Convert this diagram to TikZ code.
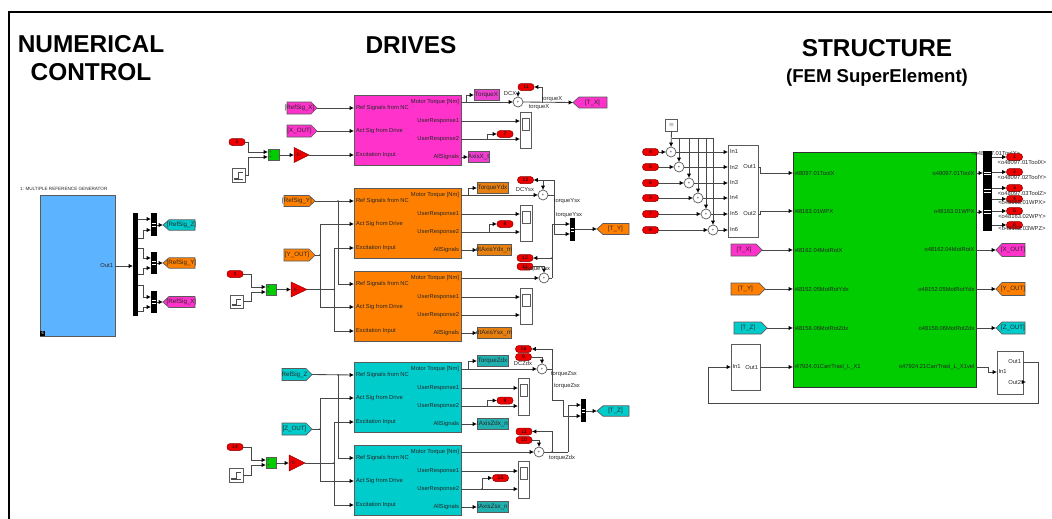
\documentclass[tikz,border=0pt]{standalone}
\usepackage{fontspec}
\setmainfont{Liberation Sans}
\usetikzlibrary{arrows.meta}
\definecolor{cblue}{HTML}{5CB3FF}
\definecolor{cmag}{HTML}{FF33CC}
\definecolor{cora}{HTML}{FF8000}
\definecolor{ccya}{HTML}{00CCCC}
\definecolor{cgre}{HTML}{00CC00}
\definecolor{cred}{HTML}{EE0000}
\definecolor{wirec}{HTML}{484848}
\definecolor{edgec}{HTML}{5A5A5A}
\definecolor{dmag}{HTML}{EE40D0}
\definecolor{dora}{HTML}{E88010}
\definecolor{dcya}{HTML}{20B0B0}
\tikzset{
  wire/.style={draw=wirec,line width=.85pt},
  arw/.style={wire,-{Latex[black,length=4.4pt,width=4.4pt]}},
  blockb/.style={draw=edgec,line width=.9pt,inner sep=0,outer sep=0},
  lbl/.style={font=\fontsize{5.8}{6}\selectfont,text=black!85,inner sep=0,outer sep=0},
  tagt/.style={font=\fontsize{6.2}{7}\selectfont,text=black!85,inner sep=0,outer sep=0},
  pillb/.style={draw=red!55!black,line width=.5pt,fill=cred,rounded corners=3.2pt,minimum width=16pt,minimum height=7pt,inner sep=0,outer sep=0,font=\fontsize{5}{5}\selectfont,text=black},
  summ/.style={circle,draw=edgec,line width=.7pt,fill=white,minimum size=10pt,inner sep=0,outer sep=0,font=\fontsize{4}{4}\selectfont},
  barb/.style={fill=black,draw=none,inner sep=0,outer sep=0},
  title/.style={font=\fontsize{24.4}{24}\selectfont\bfseries,text=black,inner sep=0,align=center},
  titlesm/.style={title,font=\fontsize{18.6}{20}\selectfont\bfseries},
  rtagb/.style={draw=edgec,line width=.7pt,inner sep=0,outer sep=0,tagt,minimum height=11pt},
}
\newcommand{\bx}[6]{\node[blockb,#6,minimum width={(#4)-(#2)},minimum height={(#5)-(#3)}] (#1) at ({(#2+#4)/2},{(#3+#5)/2}) {};}
\newcommand{\pill}[4]{\node[pillb] (#1) at (#2,#3) {#4};}
\newcommand{\gtL}[7]{\draw[draw=edgec,line width=.7pt,fill=#6] (#2,#4) -- ({#2+6},{#4-#5}) -- (#3,{#4-#5}) -- (#3,{#4+#5}) -- ({#2+6},{#4+#5}) -- cycle;
  \coordinate (#1-p) at (#2,#4);
  \node[tagt] (#1) at ({(#2+5+#3)/2},#4) {#7};}
\newcommand{\gtR}[7]{\draw[draw=edgec,line width=.7pt,fill=#6] (#3,#4) -- ({#3-6},{#4-#5}) -- (#2,{#4-#5}) -- (#2,{#4+#5}) -- ({#3-6},{#4+#5}) -- cycle;
  \coordinate (#1-p) at (#3,#4);
  \node[tagt] (#1) at ({(#2+#3-5)/2},#4) {#7};}
\newcommand{\rtg}[6]{\node[rtagb,fill=#5,minimum width={(#3)-(#2)}] (#1) at ({(#2+#3)/2},#4) {\makebox[0pt]{#6}};}
\newcommand{\sumn}[3]{\node[summ] (#1) at (#2,#3) {+};}
\newcommand{\scopeb}[5]{\bx{#1}{#2}{#3}{#4}{#5}{fill=white}
  \bx{#1-s}{#2+2}{#3+6}{#4-2}{#3+18}{fill=white,line width=.7pt}}
\newcommand{\stepb}[5]{\bx{#1}{#2}{#3}{#4}{#5}{fill=white,line width=.7pt}
  \draw[line width=.5pt,black!70] ({#2+2},{#5-4}) -- ({(#2+#4)/2},{#5-4}) -- ({(#2+#4)/2},{#3+4}) -- ({#4-2},{#3+4});
  \draw[line width=.4pt,black!70] ({#2+2},{#5-2.5}) -- ({#4-2},{#5-2.5});}
\newcommand{\gain}[5]{\draw[draw=red!60!black,line width=.5pt,fill=cred] (#2,{#4-#5}) -- (#3,#4) -- (#2,{#4+#5}) -- cycle;
  \coordinate (#1-i) at (#2,#4); \coordinate (#1-o) at (#3,#4);
  \node[lbl,font=\fontsize{5}{5}\selectfont] (#1) at ({#2+5},#4) {K-};}
\newcommand{\muxb}[5]{\bx{#1}{#2}{#3}{#4}{#5}{barb}
  \draw[white,line width=.5pt] ({#2+.7},{(#3+#5)/2-1.5}) -- ({#4-.7},{(#3+#5)/2-1.5}) ({#2+.7},{(#3+#5)/2+1.5}) -- ({#4-.7},{(#3+#5)/2+1.5});}
\newcommand{\gbox}[5]{\bx{#1}{#2}{#3}{#4}{#5}{fill=cgre,line width=.6pt}
  \node[lbl,font=\fontsize{4}{4}\selectfont,anchor=west] (#1-a) at ({#2+1},{#3+3}) {+};
  \node[lbl,font=\fontsize{4}{4}\selectfont,anchor=west] (#1-b) at ({#2+1},{#5-3}) {+};}
\newcommand{\drive}[3]{%
  \bx{#1}{354}{#2}{461}{#2+70}{fill=#3}
  \coordinate (#1-r) at (354,#2+13); \coordinate (#1-a) at (354,#2+36); \coordinate (#1-e) at (354,#2+60);
  \coordinate (#1-m) at (461,#2+7); \coordinate (#1-u) at (461,#2+26); \coordinate (#1-v) at (461,#2+44); \coordinate (#1-s) at (461,#2+62);
  \node[lbl,anchor=west] (#1-l1) at ([xshift=2pt]#1-r) {Ref Signals from NC};
  \node[lbl,anchor=west] (#1-l2) at ([xshift=2pt]#1-a) {Act Sig from Drive};
  \node[lbl,anchor=west] (#1-l3) at ([xshift=2pt]#1-e) {Excitation Input};
  \node[lbl,anchor=east] (#1-l4) at ([xshift=-2pt]#1-m) {Motor Torque [Nm]};
  \node[lbl,anchor=east] (#1-l5) at ([xshift=-2pt]#1-u) {UserResponse1};
  \node[lbl,anchor=east] (#1-l6) at ([xshift=-2pt]#1-v) {UserResponse2};
  \node[lbl,anchor=east] (#1-l7) at ([xshift=-2pt]#1-s) {AllSignals};}
\newcommand{\jdot}[1]{\fill[wirec] (#1) circle (.9pt);}
\begin{document}
\begin{tikzpicture}[x=1pt,y=-1pt]
\useasboundingbox (0,0) rectangle (1052,519);
\fill[white] (0,0) rectangle (1052,519);
% frame
\coordinate (fa) at (9,519); \coordinate (fb) at (9,12); \coordinate (fc) at (1052,12);
\draw[black,line width=2pt] (fa) -- (fb) -- (fc);
% titles
\node[title] (t1) at (91,44) {NUMERICAL};
\node[title] (t2) at (91,72) {CONTROL};
\node[title] (t3) at (411,45) {DRIVES};
\node[title] (t4) at (877,48) {STRUCTURE};
\node[titlesm] (t5) at (877,78) {(FEM SuperElement)};

% ---------- numerical control
\node[lbl,font=\fontsize{4.6}{5}\selectfont,anchor=west] (gt) at (20,188.5) {1: MULTIPLE REFERENCE GENERATOR};
\bx{gen}{40}{195}{115}{336}{fill=cblue}
\node[lbl,anchor=east] (genout) at (113,266) {Out1};
\node[fill=black,text=white,inner sep=0,outer sep=0,minimum size=5pt,font=\fontsize{4}{4}\selectfont] (genic) at (42.7,333) {6};
\bx{dmx}{133}{213}{138}{316}{barb}
\muxb{mz}{151}{213}{157}{236}
\muxb{my}{151}{252}{157}{274}
\muxb{mx}{151}{291}{157}{313}
\draw[arw] (gen.east |- genout) -- (dmx.west |- genout);
\draw[arw] (dmx.east |- 0,219) -- (mz.west |- 0,219);
\draw[arw] (dmx.east |- 0,238) -- ++(5,0) |- (mz.west |- 0,230);
\draw[arw] (dmx.east |- 0,248) -- ++(5,0) |- (my.west |- 0,258);
\draw[arw] (dmx.east |- 0,274) -- ++(5,0) |- (my.west |- 0,268);
\draw[arw] (dmx.east |- 0,285) -- ++(5,0) |- (mx.west |- 0,297);
\draw[arw] (dmx.east |- 0,311) -- ++(5,0) |- (mx.west |- 0,307);
\gtL{grz}{163}{195}{225}{5.2}{ccya}{[RefSig\_Z]}
\gtL{gry}{163}{195}{263}{5.2}{cora}{[RefSig\_Y]}
\gtL{grx}{163}{195}{302}{5.5}{cmag}{[RefSig\_X]}
\draw[arw] (mz.east |- grz-p) -- (grz-p);
\draw[arw] (my.east |- gry-p) -- (gry-p);
\draw[arw] (mx.east |- grx-p) -- (grx-p);

% ---------- X drive
\drive{dx}{95}{cmag}
\gtR{frx}{287}{317}{108}{6}{cmag}{[RefSig\_X]}
\gtR{fox}{287}{317}{131}{6}{cmag}{[X\_OUT]}
\draw[arw] (frx-p) -- (dx-r);
\draw[arw] (fox-p) -- (dx-a);
\pill{p2}{237}{142}{2}
\stepb{stx}{232}{168}{245}{182}
\gbox{mgx}{268}{149}{279}{160}
\gain{kx}{294}{309}{155}{7.5}
\draw[arw] (p2.east) -- ++(3,0) |- (mgx.west |- 0,152);
\draw[arw] (stx.east) -- ++(3,0) |- (mgx.west |- 0,157);
\draw[arw] (mgx.east |- kx-i) -- (kx-i);
\draw[arw] (kx-o) -- (dx-e);
\rtg{tqx}{474}{499}{95}{dmag}{TorqueX}
\coordinate (jtx) at (466,102);
\draw[arw] (jtx) |- (tqx.west);
\sumn{sx}{518}{102}
\draw[arw] (dx-m) -- (sx.west);
\gtL{gtx}{573}{607}{102.5}{5.5}{cmag}{[T\_X]}
\draw[arw] (sx.east) -- (gtx-p);
\pill{p11x}{526}{87}{11}
\coordinate (jsx) at (542,102.5);
\draw[arw] (jsx) |- (p11x.east);
\draw[arw] (p11x.south west) -- (sx.north);
\node[lbl] (ldx) at (510,94) {DCX};
\node[lbl] (ltx1) at (552,99) {torqueX};
\node[lbl] (ltx2) at (539,107) {torqueX};
\scopeb{scx}{520}{112}{531}{148}
\draw[arw] (dx-u) -- (scx.west |- dx-u);
\draw[arw] (dx-v) -- (scx.west |- dx-v);
\pill{p7}{505}{134}{7}
\coordinate (jux) at (487,139);
\draw[arw] (jux) |- (p7.west);
\rtg{asx}{468}{489}{157}{dmag}{AxisX\_t}
\draw[arw] (dx-s) -- (asx.west);

% ---------- Y drives
\drive{dya}{188}{cora}
\drive{dyb}{271}{cora}
\gtR{fry}{284}{315}{201}{5.5}{cora}{[RefSig\_Y]}
\gtR{foy}{284}{315}{255}{6}{cora}{[Y\_OUT]}
\coordinate (jry) at (338,201); \coordinate (jay) at (320,255); \coordinate (jey) at (334,289.5);
\draw[arw] (fry-p) -- (dya-r);
\draw[arw] (jry) |- (dyb-r);
\draw[wire] (foy-p) -- (jay);
\draw[arw] (jay) |- (dya-a);
\draw[arw] (jay) |- (dyb-a);
\pill{p1}{235}{274}{1}
\stepb{sty}{230}{295}{243}{308}
\gbox{mgy}{266}{284}{276}{295}
\gain{ky}{291}{307}{289.5}{7.5}
\draw[arw] (p1.east) -- ++(8,0) |- (mgy.west |- 0,287);
\draw[arw] (sty.east) -- ++(8,0) |- (mgy.west |- 0,292);
\draw[arw] (mgy.east |- ky-i) -- (ky-i);
\draw[wire] (ky-o) -- (jey);
\draw[arw] (jey) |- (dya-e);
\draw[arw] (jey) |- (dyb-e);
\jdot{jry}\jdot{jay}\jdot{jey}
\rtg{tqy}{477}{508}{188}{dora}{TorqueYdx}
\coordinate (jty) at (468,195);
\draw[arw] (jty) |- (tqy.west);
\sumn{sya}{543}{195}
\sumn{syb}{544}{278}
\draw[arw] (dya-m) -- (sya.west);
\draw[arw] (dyb-m) -- (syb.west);
\pill{p12a}{525.5}{180}{12}
\pill{p12b}{525}{258}{12}
\pill{p11b}{525}{266.5}{11}
\muxb{muy}{570}{218}{575}{241}
\coordinate (jya) at (554,195); \coordinate (jyb) at (552,278); \coordinate (jyc) at (552,258);
\draw[wire] (sya.east) -- (jya);
\draw[arw] (jya) |- (p12a.east);
\draw[arw] (jya) |- (muy.west |- 0,234);
\draw[arw] (sya.north |- p12a) -- (sya.north);
\draw[wire] (syb.east) -- (jyb);
\draw[arw] (jyb) |- (muy.west |- 0,224);
\draw[arw] (jyc) -- (p12b.east);
\draw[arw] (p11b.east) -| (syb.north);
\jdot{jyc}
\gtL{gty}{597}{629}{229}{5.5}{cora}{[T\_Y]}
\draw[arw] (muy.east |- gty-p) -- (gty-p);
\node[lbl] (ldy) at (525,190) {DCYsx};
\node[lbl] (lty1) at (567,201) {torqueYsx};
\node[lbl] (lty2) at (569,215) {torqueYsx};
\node[lbl] (lty3) at (537,269.5) {torqueYsx};
\scopeb{scya}{520}{205}{532}{241}
\scopeb{scyb}{520}{288}{532}{324}
\draw[arw] (dya-u) -- (scya.west |- dya-u);
\draw[arw] (dya-v) -- (scya.west |- dya-v);
\draw[arw] (dyb-u) -- (scyb.west |- dyb-u);
\draw[arw] (dyb-v) -- (scyb.west |- dyb-v);
\pill{p8}{505}{224}{8}
\coordinate (juy) at (489,232);
\draw[arw] (juy) |- (p8.west);
\rtg{asya}{477}{511}{250}{dora}{dtAxisYdx\_m}
\rtg{asyb}{477}{511}{333}{dora}{dtAxisYsx\_m}
\draw[arw] (dya-s) -- (asya.west);
\draw[arw] (dyb-s) -- (asyb.west);

% ---------- Z drives
\drive{dza}{362}{ccya}
\drive{dzb}{445}{ccya}
\gtR{frz}{282}{312}{374.5}{6}{ccya}{RefSig\_Z}
\gtR{foz}{282}{312}{429}{6}{ccya}{[Z\_OUT]}
\coordinate (jrz) at (338,375); \coordinate (jaz) at (320,429); \coordinate (jez) at (334,463);
\draw[arw] (frz-p) -- (dza-r);
\draw[arw] (jrz) |- (dzb-r);
\draw[wire] (foz-p) -- (jaz);
\draw[arw] (jaz) |- (dza-a);
\draw[arw] (jaz) |- (dzb-a);
\pill{p14}{235}{447}{14}
\stepb{stz}{229}{468}{243}{482}
\gbox{mgz}{266}{457}{276}{468}
\gain{kz}{289}{305}{463}{8}
\draw[arw] (p14.east) -- ++(8,0) |- (mgz.west |- 0,460);
\draw[arw] (stz.east) -- ++(8,0) |- (mgz.west |- 0,465);
\draw[arw] (mgz.east |- kz-i) -- (kz-i);
\draw[wire] (kz-o) -- (jez);
\draw[arw] (jez) |- (dza-e);
\draw[arw] (jez) |- (dzb-e);
\jdot{jrz}\jdot{jaz}\jdot{jez}
\rtg{tqz}{477}{508}{361}{dcya}{TorqueZdx}
\coordinate (jtz) at (468,369);
\draw[arw] (jtz) |- (tqz.west);
\sumn{sza}{542}{369}
\sumn{szb}{539}{452}
\draw[arw] (dza-m) -- (sza.west);
\draw[arw] (dzb-m) -- (szb.west);
\pill{p16}{523.5}{349}{16}
\pill{p9b}{523.5}{357}{9}
\pill{p11z}{524}{431.5}{11}
\pill{p10}{524}{440}{10}
\muxb{muz}{581}{399}{586}{422}
\coordinate (jza) at (552,369); \coordinate (jzb) at (552,400); \coordinate (jzc) at (563,400);
\coordinate (jzd) at (568,452); \coordinate (jze) at (552,452);
\draw[wire] (sza.east) -- (jza);
\draw[arw] (jza) |- (p16.east);
\draw[wire] (jza) -- (jzb) -- (jzc);
\draw[arw] (jzc) |- (muz.west |- 0,416);
\draw[arw] (p9b.east) -| (sza.north);
\draw[wire] (szb.east) -- (jzd);
\draw[arw] (jzd) |- (muz.west |- 0,405);
\draw[arw] (jze) |- (p11z.east);
\draw[arw] (p10.east) -| (szb.north);
\jdot{jze}
\gtL{gtz}{597}{629}{411}{5.2}{ccya}{[T\_Z]}
\draw[arw] (muz.east |- gtz-p) -- (gtz-p);
\node[lbl] (ldz) at (523,363) {DCZdx};
\node[lbl] (ltz1) at (564,374) {torqueZsx};
\node[lbl] (ltz2) at (567,386) {torqueZsx};
\node[lbl] (ltz3) at (562,458) {torqueZdx};
\scopeb{scza}{518}{378}{529}{415}
\scopeb{sczb}{518}{461}{529}{498}
\draw[arw] (dza-u) -- (scza.west |- dza-u);
\draw[arw] (dza-v) -- (scza.west |- dza-v);
\draw[arw] (dzb-u) -- (sczb.west |- dzb-u);
\draw[arw] (dzb-v) -- (sczb.west |- dzb-v);
\pill{p9}{505}{400.5}{9}
\pill{p15}{500.5}{478}{15}
\coordinate (juz) at (487,406); \coordinate (juw) at (482,489);
\draw[arw] (juz) |- (p9.west);
\draw[arw] (juw) |- (p15.west);
\jdot{juw}
\rtg{asza}{477}{508}{424}{dcya}{tAxisZdx\_n}
\rtg{aszb}{477}{508}{507}{dcya}{tAxisZsx\_n}
\draw[arw] (dza-s) -- (asza.west);
\draw[arw] (dzb-s) -- (aszb.west);

% ---------- excitation of the structure
\bx{cst}{665.5}{119}{677.5}{131}{fill=white,line width=.7pt}
\node[lbl,font=\fontsize{4}{4}\selectfont] (cstt) at (671.5,125) {$\equiv$};
\pill{e4}{650.5}{152}{4}
\pill{e5}{650.5}{167}{5}
\pill{e6}{650.5}{183}{6}
\pill{e3}{650.5}{198}{3}
\pill{e7}{650.5}{214}{7}
\pill{e8}{650.5}{230}{8}
\sumn{s1}{671}{152}
\sumn{s2}{679}{167}
\sumn{s3}{689}{183}
\sumn{s4}{698}{198}
\sumn{s5}{706}{214}
\sumn{s6}{713}{230}
\bx{ins}{728}{145}{758}{237}{fill=white}
\node[lbl,anchor=west] (i1) at (730,152) {In1};
\node[lbl,anchor=west] (i2) at (730,167) {In2};
\node[lbl,anchor=west] (i3) at (730,183) {In3};
\node[lbl,anchor=west] (i4) at (730,198) {In4};
\node[lbl,anchor=west] (i5) at (730,214) {In5};
\node[lbl,anchor=west] (i6) at (730,230) {In6};
\node[lbl,anchor=east] (o1) at (756,167) {Out1};
\node[lbl,anchor=east] (o2) at (756,214) {Out2};
\foreach \a/\b/\c in {e4/s1/i1,e5/s2/i2,e6/s3/i3,e3/s4/i4,e7/s5/i5,e8/s6/i6}{
  \draw[arw] (\a.east) -- (\b.west);
  \draw[arw] (\b.east) -- (ins.west |- \b);
}
\coordinate (jtop) at (671.5,138);
\draw[arw] (cst.south) -- (s1.north);
\draw[wire] (jtop) -- (s6.north |- jtop);
\foreach \b in {s2,s3,s4,s5,s6}{\draw[arw] (\b.north |- jtop) -- (\b.north);}

% ---------- structure
\bx{fem}{793}{152}{976}{387}{fill=cgre,draw=black!80}
\foreach \n/\y/\t in {a/173/48097.01ToolX,b/211/48163.01WPX,c/250/48162.04MotRotX,d/289/48152.05MotRotYdx,e/328/48158.06MotRotZdx}{
  \node[lbl,anchor=west] (fl\n) at (794.5,\y) {i\t};
}
\node[lbl,anchor=west] (flf) at (794.5,367) {i47924.01CarrTrasl\_L\_X1};
\foreach \n/\y/\t in {a/173/48097.01ToolX,b/212/48163.01WPX,c/250/48162.04MotRotX,d/289/48152.05MotRotYdx,e/328/48158.06MotRotZdx}{
  \node[lbl,anchor=east] (fr\n) at (974.5,\y) {o\t};
}
\node[lbl,anchor=east] (frf) at (974.5,367) {o47924.21CarrTrasl\_L\_X1vel};
\draw[arw] (o1 -| ins.east) -- ++(2,0) |- (fem.west |- fla);
\draw[arw] (o2 -| ins.east) -- ++(2,0) |- (fem.west |- flb);
\gtR{itx}{731}{762}{250}{6}{cmag}{[T\_X]}
\gtR{ity}{731}{765}{289}{6}{cora}{[T\_Y]}
\gtR{itz}{734}{767}{328}{6}{ccya}{[T\_Z]}
\draw[arw] (itx-p) -- (fem.west |- flc);
\draw[arw] (ity-p) -- (fem.west |- fld);
\draw[arw] (itz-p) -- (fem.west |- fle);
\bx{lb}{731}{344}{760}{390}{fill=white}
\node[lbl,anchor=west] (lbi) at (732.5,367) {In1};
\node[lbl,anchor=east] (lbo) at (758,367) {Out1};
\draw[arw] (lb.east |- lbo) -- (fem.west |- flf);
\bx{rb}{997}{351}{1023}{394}{fill=white}
\node[lbl,anchor=west] (rbi) at (998.5,372) {In1};
\node[lbl,anchor=east] (rbo) at (1021,362) {Out1};
\node[lbl,anchor=east] (rbp) at (1021,382) {Out2};
\draw[arw] (fem.east |- frf) -- ++(12,0) |- (rb.west |- rbi);
\draw[arw] (rb.east |- rbo) -- ++(15,0) -- ++(0,41) -| ++(-330,0) |- (lb.west |- lbi);
\draw[arw] (rb.east |- rbp) -- ++(3,0);
% output demux
\node[lbl,anchor=east] (lbar) at (1020,153) {<o48097.01ToolX>};
\muxb{bar}{983}{151}{992}{231}
\draw[white,line width=.5pt] (984,172) -- (991,172) (984,174.5) -- (991,174.5) (984,210.5) -- (991,210.5) (984,213) -- (991,213);
\draw[arw] (fem.east |- fra) -- (bar.west |- fra);
\draw[arw] (fem.east |- frb) -- (bar.west |- frb);
\gtL{xo}{996}{1025}{250}{6.5}{cmag}{[X\_OUT]}
\gtL{yo}{996}{1025}{289}{6.5}{cora}{[Y\_OUT]}
\gtL{zo}{996}{1025}{328}{6}{ccya}{[Z\_OUT]}
\draw[arw] (fem.east |- frc) -- (xo-p);
\draw[arw] (fem.east |- frd) -- (yo-p);
\draw[arw] (fem.east |- fre) -- (zo-p);
\pill{q1}{1014.5}{157}{1}
\pill{q2}{1014.5}{172}{2}
\pill{q3}{1014.5}{188}{3}
\pill{q4}{1014.5}{199}{4}
\pill{q5}{1014.5}{211}{5}
\pill{q6}{1014.5}{225}{6}
\foreach \q in {q1,q2,q3,q4,q5,q6}{\draw[arw] (bar.east |- \q) -- (\q.west);}
\node[lbl] (lq1) at (1022,162) {<o48097.01ToolX>};
\node[lbl] (lq2) at (1022,177) {<o48097.02ToolY>};
\node[lbl] (lq3) at (1022,193) {<o48097.03ToolZ>};
\node[lbl] (lq4) at (1022,203) {<o48163.01WPX>};
\node[lbl] (lq5) at (1022,216.5) {<o48163.02WPY>};
\node[lbl] (lq6) at (1022,229) {<o48163.03WPZ>};
\end{tikzpicture}
\end{document}
